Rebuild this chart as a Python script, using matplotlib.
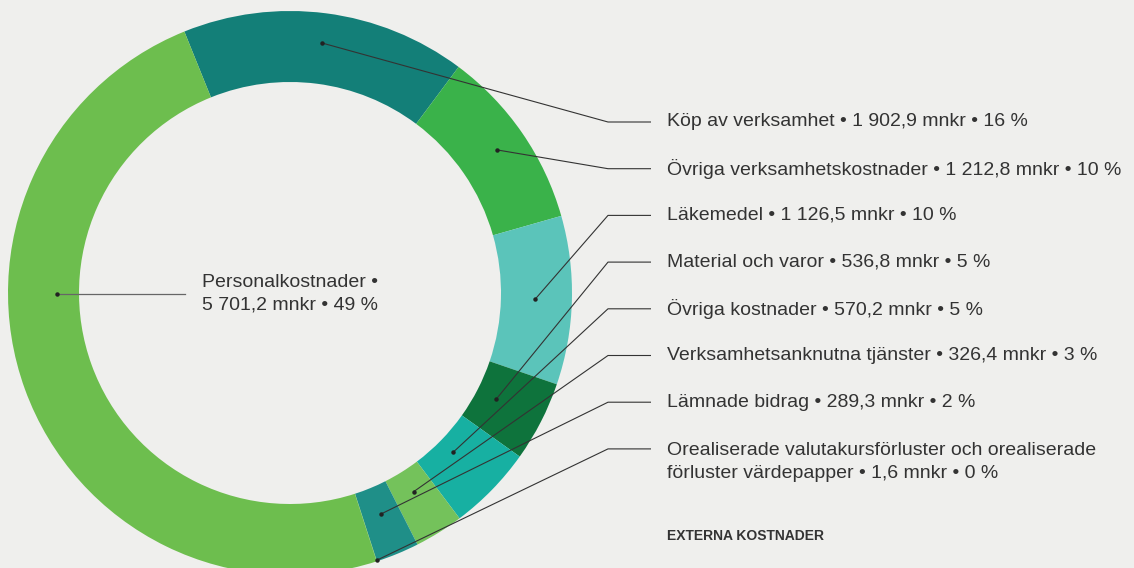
import numpy as np
import matplotlib
matplotlib.use("Agg")
import matplotlib.pyplot as plt

# data
labels = [
    "Köp av verksamhet",
    "Övriga verksamhetskostnader",
    "Läkemedel",
    "Material och varor",
    "Övriga kostnader",
    "Verksamhetsanknutna tjänster",
    "Lämnade bidrag",
    "Orealiserade valutakursförluster och orealiserade\nförluster värdepapper",
    "Personalkostnader",
]
values = [1902.9, 1212.8, 1126.5, 536.8, 570.2, 326.4, 289.3, 1.6, 5701.2]
value_text = ["1 902,9", "1 212,8", "1 126,5", "536,8", "570,2", "326,4", "289,3", "1,6", "5 701,2"]
percents = [16, 10, 10, 5, 5, 3, 2, 0, 49]
colors = ["#137F78", "#3AB24A", "#5BC4BA", "#0E733C", "#17B0A2",
          "#74C25B", "#1F8F88", "#4CB648", "#6DBE4E"]
title = "EXTERNA KOSTNADER"

# layout (pixel units, y up)
W, H = 1134, 568
bg = "#EFEFED"
txt_color = "#333333"
cx, cy = 290, H - 293
r_out, r_in = 282, 211
start = 112
anchor_r = [252, 252, 245, 232, 228, 234, 239, 281]
label_y0, label_dy = 122, 46.7
kink_x, line_end_x, text_x = 608, 651, 667
fs = 14

fig = plt.figure(figsize=(W / 100, H / 100), dpi=100, facecolor=bg)
ax = fig.add_axes([0, 0, 1, 1])
ax.set_facecolor(bg)

ax.pie(values, colors=colors, startangle=start, counterclock=False,
       radius=r_out, center=(cx, cy),
       wedgeprops=dict(width=r_out - r_in, linewidth=0))

ax.set_xlim(0, W)
ax.set_ylim(0, H)
ax.set_aspect("equal")
ax.axis("off")

total = sum(values)
cum = 0.0
for i, (lab, v) in enumerate(zip(labels, values)):
    mid = np.deg2rad(start - 360 * (cum + v / 2) / total)
    cum += v
    if i == len(values) - 1:
        continue
    ax_x = cx + anchor_r[i] * np.cos(mid)
    ax_y = cy + anchor_r[i] * np.sin(mid)
    ty = H - (label_y0 + i * label_dy)
    ax.plot([ax_x, kink_x, line_end_x], [ax_y, ty, ty], color="#333333", lw=0.8,
            solid_capstyle="butt")
    ax.plot(ax_x, ax_y, "o", color="#222222", ms=2.2)
    text = lab + f" \u2022 {value_text[i]} mnkr \u2022 {percents[i]} %"
    if "\n" in lab:
        ax.text(text_x, ty + 7, text, fontsize=fs, color=txt_color, va="top",
                ha="left", family="Liberation Sans", linespacing=1.5)
    else:
        ax.text(text_x, ty, text, fontsize=fs, color=txt_color, va="center",
                ha="left", family="Liberation Sans")

# center label for the big slice
py = H - 294
ax.plot([cx - 233, cx - 105], [py, py], color="#666666", lw=0.9)
ax.plot(cx - 233, py, "o", color="#222222", ms=2.2)
ax.text(cx, py, f"{labels[-1]} \u2022\n{value_text[-1]} mnkr \u2022 {percents[-1]} %",
        fontsize=fs, color=txt_color, ha="center", va="center", multialignment="center",
        family="Liberation Sans", linespacing=1.4)

ax.text(text_x, H - 536, title, fontsize=10, fontweight="bold", color=txt_color,
        ha="left", va="center", family="Liberation Sans")

fig.savefig("out.png", dpi=100, facecolor=bg)
